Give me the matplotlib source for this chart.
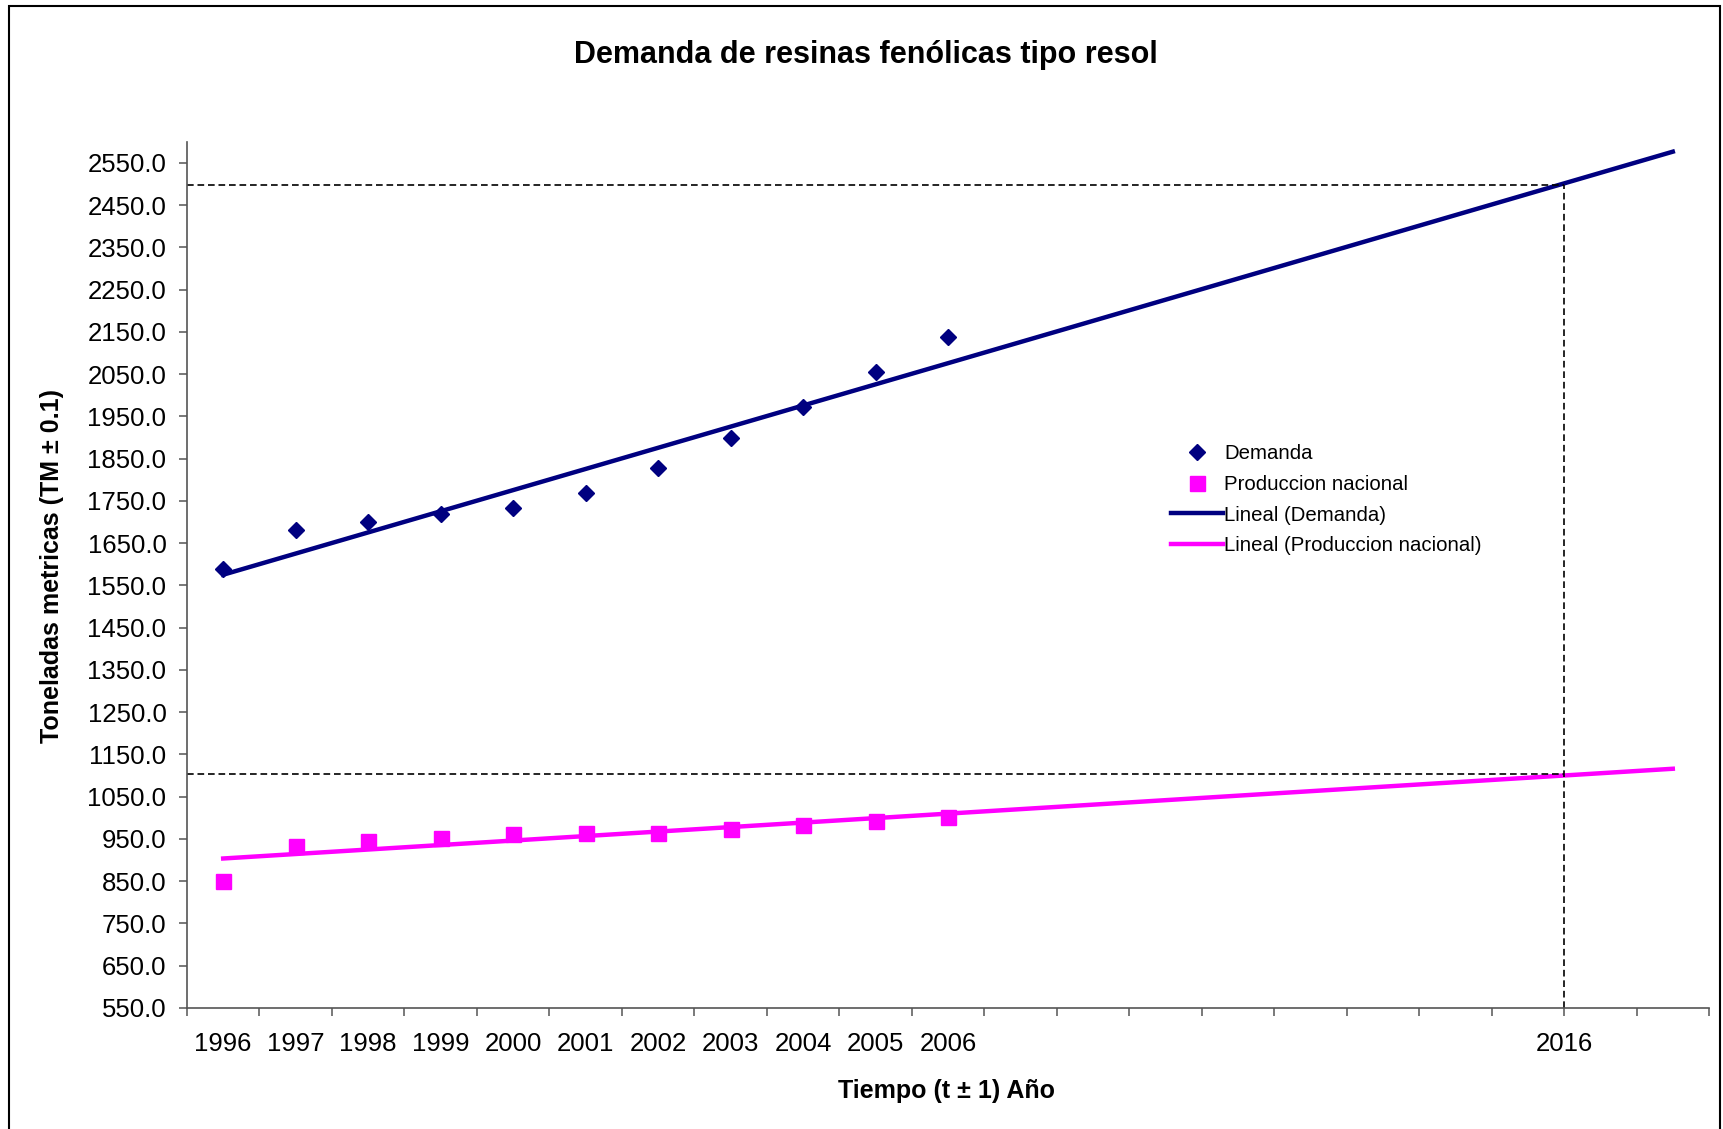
import numpy as np
import matplotlib
matplotlib.use("Agg")
import matplotlib.pyplot as plt
from matplotlib.patches import Rectangle

plt.rcParams['font.family'] = ['Liberation Sans', 'DejaVu Sans']

# data
years = [1996, 1997, 1998, 1999, 2000, 2001, 2002, 2003, 2004, 2005, 2006]
demanda = [1589, 1682, 1700, 1718, 1733, 1769, 1827, 1898, 1973, 2054, 2138]
produccion = [850, 934, 944, 952, 962, 964, 965, 974, 984, 993, 1003]

# projection
first_year = 1996
last_year = 2016
proj_label = '2016'
proj_x = 2014.5
proj_demanda = 2497
proj_produccion = 1104

y_ticks = np.arange(550, 2551, 100)

navy = '#000080'
magenta = '#FF00FF'

fig = plt.figure(figsize=(17.23, 11.29), dpi=100)
ax = fig.add_axes([0.1085, 0.1072, 0.8834, 0.7673])

# outer frame of the chart
fig.patches.append(Rectangle((0.0054, -0.05), 0.9929, 1.0447, transform=fig.transFigure,
                             fill=False, edgecolor='black', linewidth=1.5, clip_on=False))

# linear trends (least squares, like Excel)
x_arr = np.array(years, dtype=float)
x_trend = np.array([first_year, last_year], dtype=float)
p_dem = np.polyfit(x_arr, demanda, 1)
p_prod = np.polyfit(x_arr, produccion, 1)

ax.plot(years, demanda, linestyle='none', marker='D', markersize=8.3, color=navy, label='Demanda')
ax.plot(years, produccion, linestyle='none', marker='s', markersize=10.8, color=magenta,
        label='Produccion nacional')
ax.plot(x_trend, np.polyval(p_dem, x_trend), color=navy, linewidth=3.2, label='Lineal (Demanda)')
ax.plot(x_trend, np.polyval(p_prod, x_trend), color=magenta, linewidth=3.2,
        label='Lineal (Produccion nacional)')

# guide lines for the projection
x0 = first_year - 0.5
dash = (0, (4, 2.3))
ax.plot([x0, proj_x], [proj_demanda, proj_demanda], color='black', linewidth=1.2, linestyle=dash)
ax.plot([x0, proj_x], [proj_produccion, proj_produccion], color='black', linewidth=1.2, linestyle=dash)
ax.plot([proj_x, proj_x], [550, proj_demanda], color='black', linewidth=1.2, linestyle=dash)

ax.set_xlim(first_year - 0.5, last_year + 0.5)
ax.set_ylim(550, 2600)

ax.set_yticks(y_ticks)
ax.set_yticklabels([f'{v:.1f}' for v in y_ticks])
ax.set_xticks(np.arange(first_year - 0.5, last_year + 0.6, 1.0))
ax.set_xticklabels([])
ax.xaxis.remove_overlapping_locs = False
ax.set_xticks(years + [proj_x], minor=True)
ax.set_xticklabels([str(y) for y in years] + [proj_label], minor=True)

ax.tick_params(axis='y', which='major', direction='out', length=5.8, width=1.1,
               color='#555555', labelsize=18.5, pad=9)
ax.tick_params(axis='x', which='major', direction='out', length=5.8, width=1.1, color='#555555')
ax.tick_params(axis='x', which='minor', length=0, labelsize=18.5, pad=17)

for side in ['top', 'right']:
    ax.spines[side].set_visible(False)
for side in ['left', 'bottom']:
    ax.spines[side].set_color('#555555')
    ax.spines[side].set_linewidth(1.2)

fig.text(0.5026, 0.951, 'Demanda de resinas fenólicas tipo resol', ha='center', va='center',
         fontsize=22, fontweight='bold')
fig.text(0.0302, 0.4987, 'Toneladas metricas (TM ± 0.1)', ha='center', va='center',
         rotation=90, fontsize=18, fontweight='bold')
fig.text(0.5496, 0.0337, 'Tiempo (t ± 1) Año', ha='center', va='center',
         fontsize=18, fontweight='bold')

ax.legend(loc='upper left', bbox_to_anchor=(0.6796, 0.6068), bbox_transform=fig.transFigure,
          frameon=False, fontsize=14.7, handlelength=2.55, handletextpad=0.05,
          borderpad=0, borderaxespad=0, labelspacing=0.58, numpoints=1)

fig.savefig('out.png', dpi=100)
